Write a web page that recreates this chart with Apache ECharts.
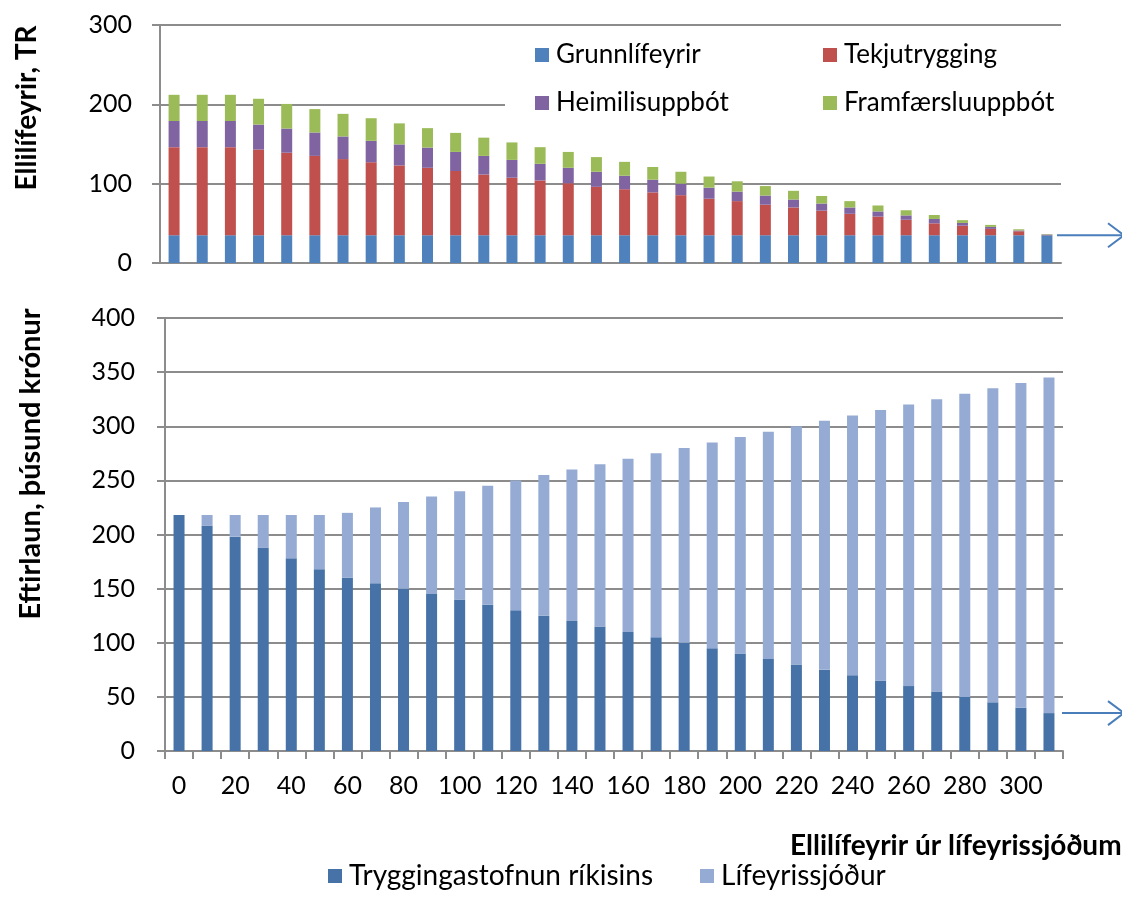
<!DOCTYPE html>
<html>
<head>
<meta charset="utf-8">
<script src="https://cdn.jsdelivr.net/npm/echarts@6/dist/echarts.min.js"></script>
<style>
html,body{margin:0;padding:0;background:#fff;}
#c{width:1122px;height:917px;}
</style>
</head>
<body>
<div id="c"></div>
<script>
// ---- data ----
const categories = ['0','10','20','30','40','50','60','70','80','90','100','110','120','130','140','150','160','170','180','190','200','210','220','230','240','250','260','270','280','290','300','310'];
const grunnlifeyrir = [35,35,35,35,35,35,35,35,35,35,35,35,35,35,35,35,35,35,35,35,35,35,35,35,35,35,35,35,35,35,35,35];
const tekjutrygging = [111,111,111,108,104,100,96,92,88,85,81,76.5,72.5,69,65.5,61,58,54,50.5,46,43,38.5,35,31,27,23.5,19.5,15,12,8,5,0.5];
const heimilisuppbot = [33,33,33,31.5,30.5,29.5,28.5,27,26.5,25.5,24,23.5,22.5,21,19.5,19,17,16,14.5,14,12,11.5,10,9,8,6.5,5.5,5.5,3.5,2.5,1,0.5];
const framfaersluuppbot = [33,33,33,32.5,31,29.5,28.5,28.5,26.5,24.5,24,23,22,21,20,18.5,17.5,16,15,14,13,12,11,9.5,8,7.5,6.5,5,3.5,2.5,1.5,0.5];
const tryggingastofnun = [218,208,198,188,178,168,160,155,150,145,140,135,130,125,120,115,110,105,100,95,90,85,80,75,70,65,60,55,50,45,40,35];
const lifeyrissjodur = [0,10,20,30,40,50,60,70,80,90,100,110,120,130,140,150,160,170,180,190,200,210,220,230,240,250,260,270,280,290,300,310];

const FONT = 'Lato, "Noto Sans", sans-serif';
const GRAY = '#8c8c8c';
const chart = echarts.init(document.getElementById('c'));

function legendItem(name, left, top, size) {
  return {
    data: [name], left: left, top: top, orient: 'horizontal',
    icon: 'rect', itemWidth: 14, itemHeight: 14, padding: 0,
    textStyle: {fontFamily: FONT, fontSize: size, color: '#000', padding: [0, 0, 0, 2]},
    selectedMode: false
  };
}

const option = {
  animation: false,
  backgroundColor: '#fff',
  grid: [
    {left: 160, right: 61, top: 25, height: 238},
    {left: 165, right: 59, top: 318, height: 433}
  ],
  legend: [
    legendItem('Grunnlífeyrir', 535, 42, 26),
    legendItem('Tekjutrygging', 823, 42, 26),
    legendItem('Heimilisuppbót', 535, 90, 26),
    legendItem('Framfærsluuppbót', 823, 90, 26),
    legendItem('Tryggingastofnun ríkisins', 328, 862, 28),
    legendItem('Lífeyrissjóður', 700, 862, 28)
  ],
  xAxis: [
    {
      type: 'category', gridIndex: 0, data: categories,
      axisLine: {lineStyle: {color: GRAY, width: 2}},
      axisTick: {show: false}, axisLabel: {show: false}
    },
    {
      type: 'category', gridIndex: 1, data: categories,
      axisLine: {lineStyle: {color: GRAY, width: 2}},
      axisTick: {show: true, interval: 0, length: 8, lineStyle: {color: GRAY, width: 2}},
      axisLabel: {interval: 1, fontFamily: FONT, fontSize: 25, color: '#000', margin: 22}
    }
  ],
  yAxis: [
    {
      type: 'value', gridIndex: 0, min: 0, max: 300, interval: 100,
      axisLine: {show: true, lineStyle: {color: GRAY, width: 2}},
      axisTick: {show: true, length: 8, lineStyle: {color: GRAY, width: 2}},
      splitLine: {lineStyle: {color: GRAY, width: 2}},
      axisLabel: {fontFamily: FONT, fontSize: 25, color: '#000', margin: 28}
    },
    {
      type: 'value', gridIndex: 1, min: 0, max: 400, interval: 50,
      axisLine: {show: true, lineStyle: {color: GRAY, width: 2}},
      axisTick: {show: true, length: 8, lineStyle: {color: GRAY, width: 2}},
      splitLine: {lineStyle: {color: GRAY, width: 2}},
      axisLabel: {fontFamily: FONT, fontSize: 25, color: '#000', margin: 30}
    }
  ],
  series: [
    {name: 'Grunnlífeyrir', type: 'bar', stack: 'top', xAxisIndex: 0, yAxisIndex: 0, barWidth: 11, data: grunnlifeyrir, itemStyle: {color: '#4f81bd'}},
    {name: 'Tekjutrygging', type: 'bar', stack: 'top', xAxisIndex: 0, yAxisIndex: 0, barWidth: 11, data: tekjutrygging, itemStyle: {color: '#c0504d'}},
    {name: 'Heimilisuppbót', type: 'bar', stack: 'top', xAxisIndex: 0, yAxisIndex: 0, barWidth: 11, data: heimilisuppbot, itemStyle: {color: '#8064a2'}},
    {name: 'Framfærsluuppbót', type: 'bar', stack: 'top', xAxisIndex: 0, yAxisIndex: 0, barWidth: 11, data: framfaersluuppbot, itemStyle: {color: '#9bbb59'}},
    {name: 'Tryggingastofnun ríkisins', type: 'bar', stack: 'bot', xAxisIndex: 1, yAxisIndex: 1, barWidth: 11, data: tryggingastofnun, itemStyle: {color: '#4672a8'}},
    {name: 'Lífeyrissjóður', type: 'bar', stack: 'bot', xAxisIndex: 1, yAxisIndex: 1, barWidth: 11, data: lifeyrissjodur, itemStyle: {color: '#95abd3'}}
  ]
};
chart.setOption(option);

// annotations: white legend box, axis titles, arrows pointing to the last value
const yTop = chart.convertToPixel({yAxisIndex: 0}, grunnlifeyrir[grunnlifeyrir.length - 1]);
const yBot = chart.convertToPixel({yAxisIndex: 1}, tryggingastofnun[tryggingastofnun.length - 1]);
const ARROW = '#4a7ebb';
function arrow(x0, y) {
  return [
    {type: 'polyline', z: 10, shape: {points: [[x0, y], [1124, y]]}, style: {stroke: ARROW, lineWidth: 2, fill: null}},
    {type: 'polyline', z: 10, shape: {points: [[1108, y - 12], [1124, y], [1108, y + 12]]}, style: {stroke: ARROW, lineWidth: 2, fill: null}}
  ];
}
chart.setOption({
  graphic: [
    {type: 'rect', z: 1, silent: true, shape: {x: 505, y: 34, width: 557, height: 91}, style: {fill: '#fff'}},
    {type: 'text', z: 10, x: 27, y: 108, rotation: Math.PI / 2,
      style: {text: 'Ellilífeyrir, TR', font: 'bold 28px ' + FONT, fill: '#000', align: 'center', verticalAlign: 'middle'}},
    {type: 'text', z: 10, x: 31, y: 464, rotation: Math.PI / 2,
      style: {text: 'Eftirlaun, þúsund krónur', font: 'bold 29px ' + FONT, fill: '#000', align: 'center', verticalAlign: 'middle'}},
    {type: 'text', z: 10, x: 790, y: 846,
      style: {text: 'Ellilífeyrir úr lífeyrissjóðum', font: 'bold 28px ' + FONT, fill: '#000', align: 'left', verticalAlign: 'middle'}}
  ].concat(arrow(1057, yTop), arrow(1062, yBot))
});
</script>
</body>
</html>
